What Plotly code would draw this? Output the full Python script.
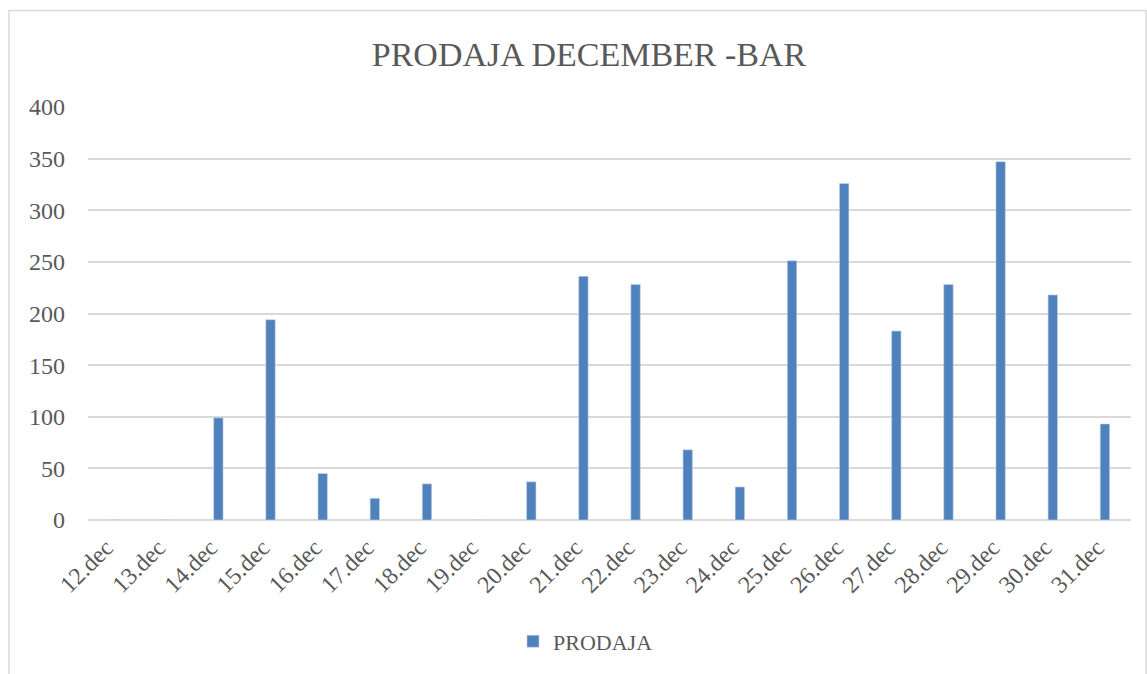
import plotly.graph_objects as go

categories = ["12.dec", "13.dec", "14.dec", "15.dec", "16.dec", "17.dec", "18.dec",
              "19.dec", "20.dec", "21.dec", "22.dec", "23.dec", "24.dec", "25.dec",
              "26.dec", "27.dec", "28.dec", "29.dec", "30.dec", "31.dec"]
prodaja = [0, 0, 99, 194, 45, 21, 35, 0, 37, 236, 228, 68, 32, 251, 326, 183, 228, 347, 218, 93]
y_ticks = [0, 50, 100, 150, 200, 250, 300, 350, 400]

FONT = "Liberation Serif"
GREY = "#595959"

fig = go.Figure()
fig.add_trace(go.Bar(
    x=categories, y=prodaja, name="PRODAJA",
    marker=dict(color="#4F81BD", line=dict(color="#C6D4E8", width=0.6)),
    width=0.18,
))

W, H = 1147, 674
L, R, T, B = 88, 1131, 107, 522
pw, ph = R - L, B - T

fig.update_layout(
    width=W, height=H,
    margin=dict(l=L, r=W - R, t=T, b=H - B),
    paper_bgcolor="white", plot_bgcolor="white",
    title=dict(text="PRODAJA DECEMBER -BAR", x=589 / W, xanchor="center",
               y=1 - 54 / H, yanchor="middle", xref="container", yref="container",
               font=dict(family=FONT, size=34, color=GREY)),
    font=dict(family=FONT, color=GREY),
    showlegend=True,
    legend=dict(orientation="h", x=0.5 - 24 / pw, xanchor="center",
                y=(B - 644) / ph, yanchor="middle",
                font=dict(family=FONT, size=22, color=GREY),
                itemwidth=30),
    bargap=0.8,
    shapes=[dict(type="rect", xref="paper", yref="paper",
                 x0=(9 - L) / pw, x1=(1146 - L) / pw,
                 y0=(B - 690) / ph, y1=(B - 10) / ph,
                 line=dict(color="#D9D9D9", width=1.5), layer="below")],
)
fig.update_xaxes(
    type="category", tickangle=-45, showgrid=False, showline=False,
    tickfont=dict(family=FONT, size=24, color=GREY), ticks="",
    ticklabelstandoff=8, ticklabelshift=-8,
)
fig.update_yaxes(
    range=[0, 400], tickvals=y_ticks, showgrid=True, gridcolor="#D9D9D9", gridwidth=1.5,
    zeroline=True, zerolinecolor="#D9D9D9", zerolinewidth=1.5, showline=False,
    tickfont=dict(family=FONT, size=24, color=GREY), ticks="", ticklabelstandoff=22,
)

fig.write_html("out.html", config={"displayModeBar": False},
               post_script="document.body.style.margin='0';document.body.style.overflow='hidden';")
